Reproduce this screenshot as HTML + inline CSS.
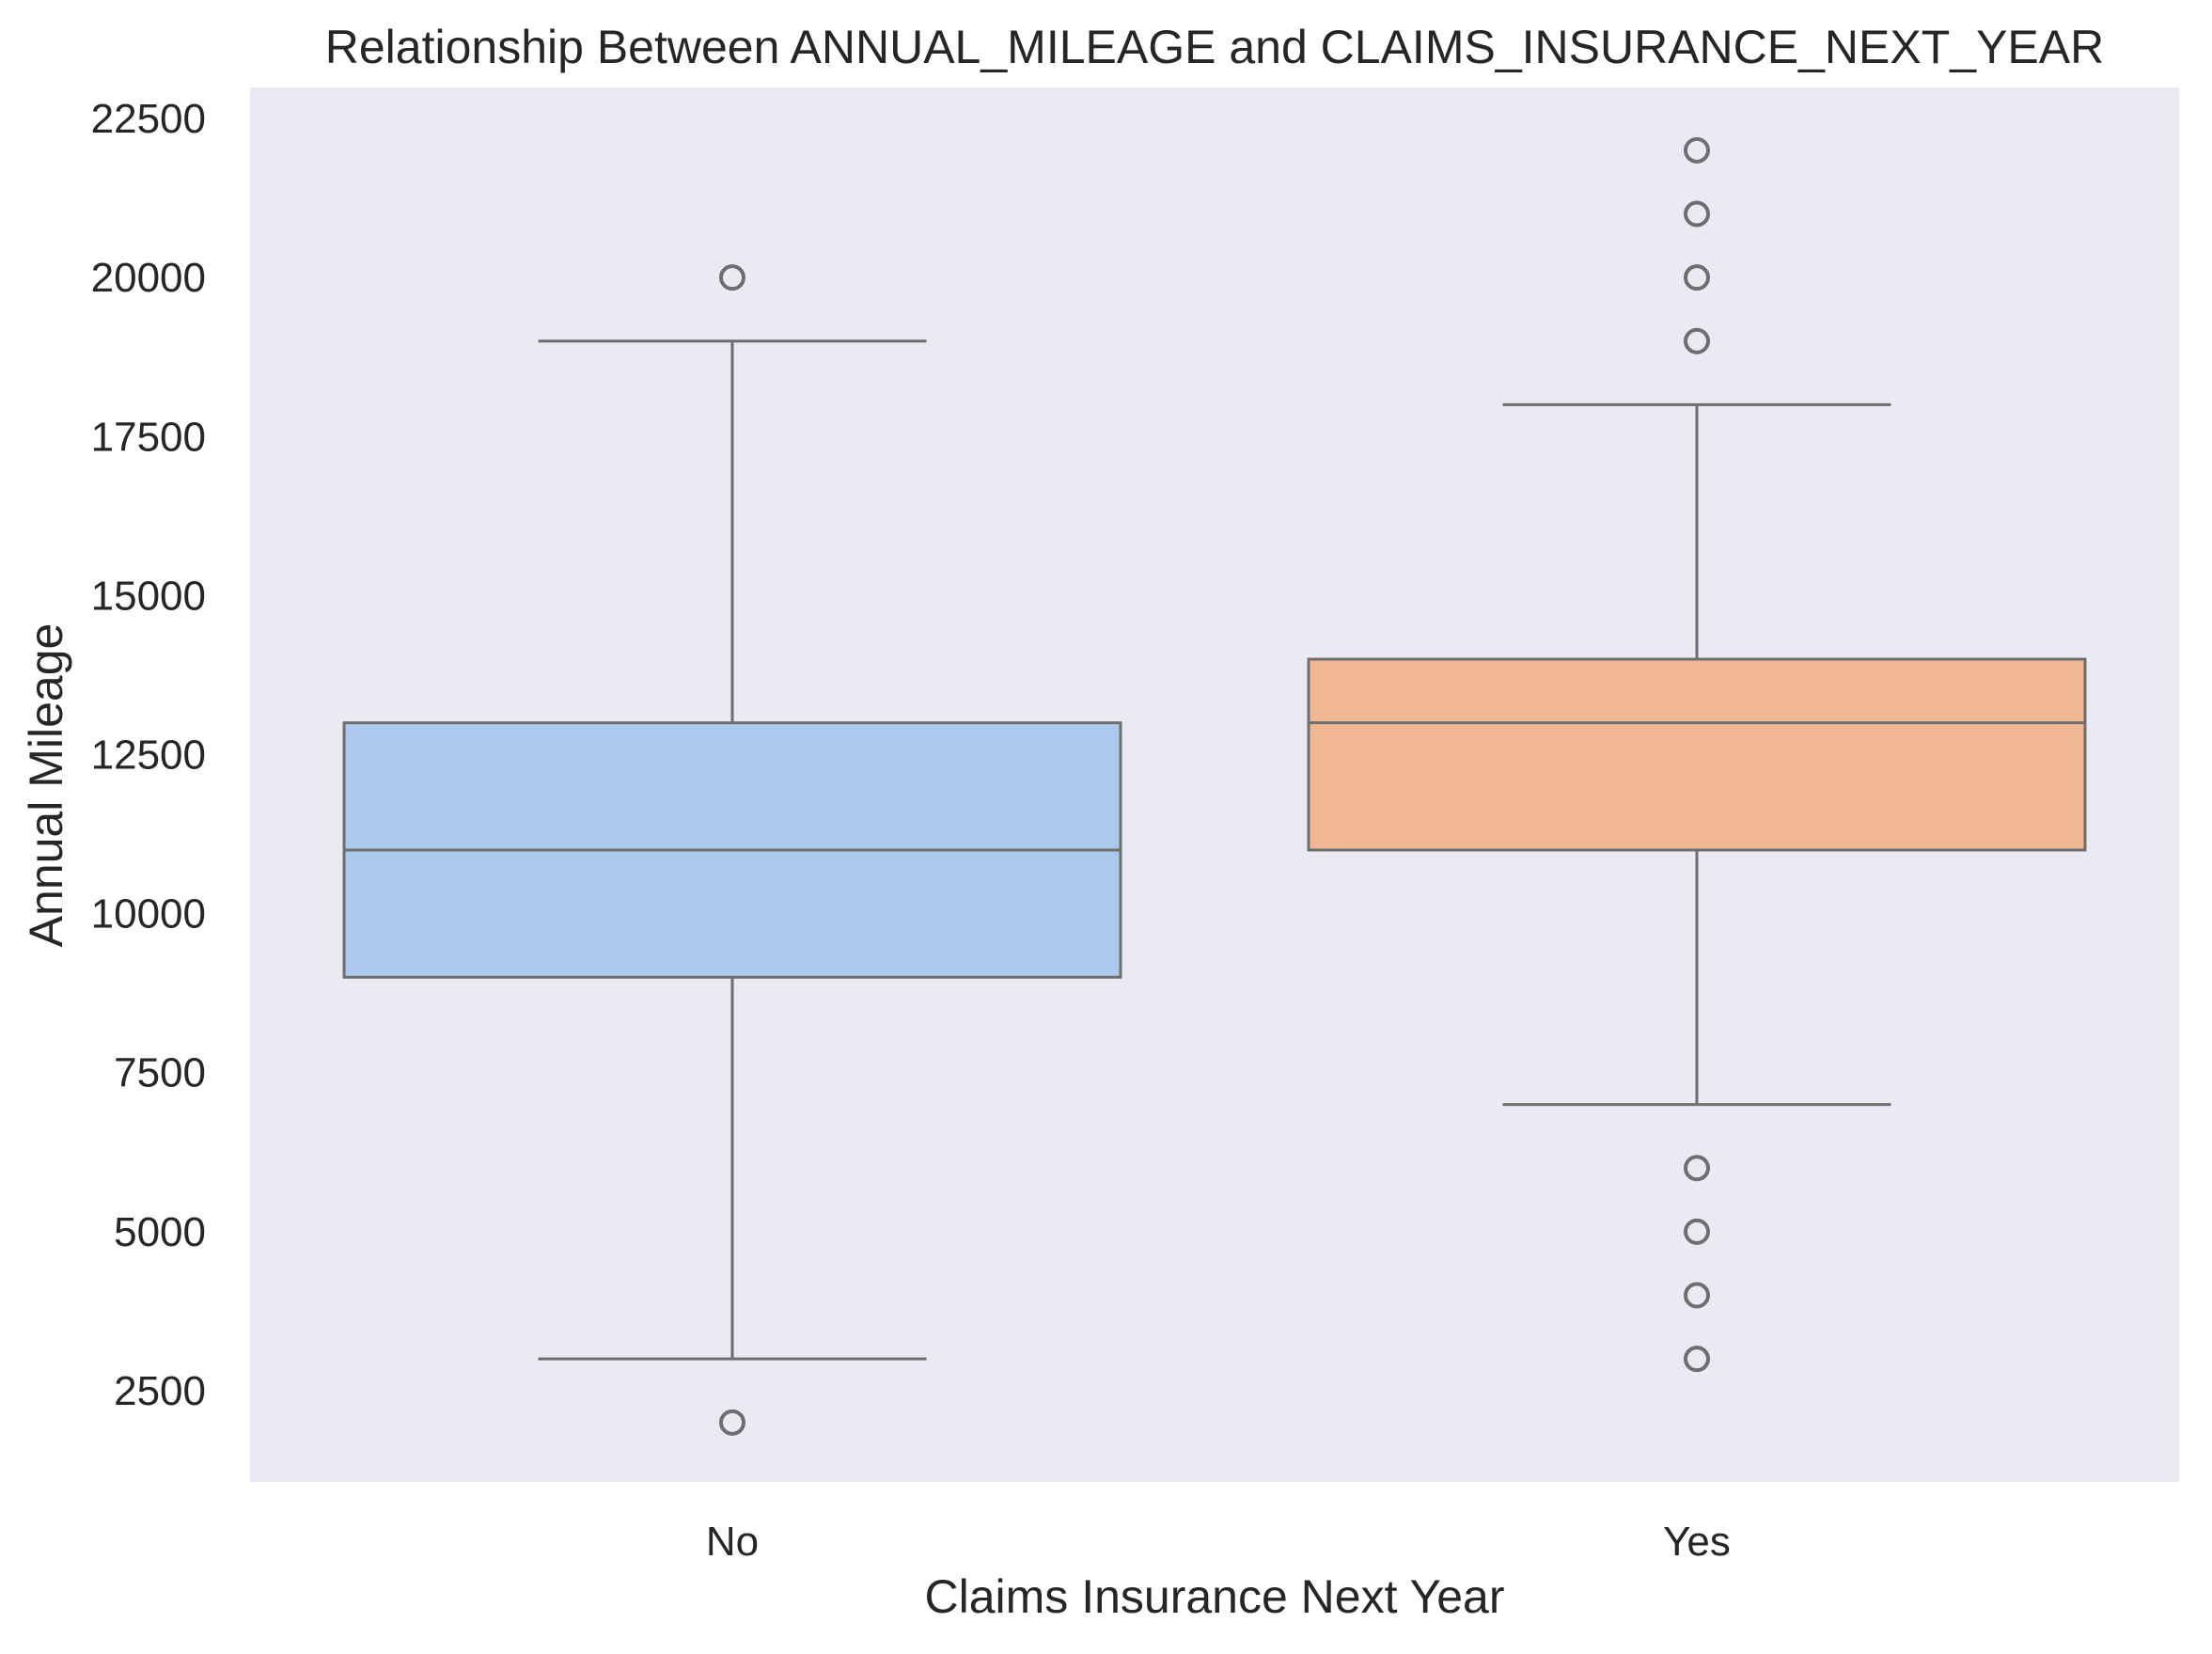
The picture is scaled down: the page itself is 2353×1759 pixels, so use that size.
<!DOCTYPE html>
<html><head><meta charset="utf-8"><style>
body{margin:0;background:#fff;}
svg text{font-family:"Liberation Sans",sans-serif;fill:#262626;}
</style></head><body>
<svg id="chart" width="2353" height="1754" xmlns="http://www.w3.org/2000/svg">
<rect x="0" y="0" width="2353" height="1754" fill="#fff"/>
<rect x="266" y="93" width="2052" height="1483" fill="#eaeaf2"/>
<text x="1292" y="67" text-anchor="middle" font-size="50">Relationship Between ANNUAL_MILEAGE and CLAIMS_INSURANCE_NEXT_YEAR</text>
<text x="1292" y="1715" text-anchor="middle" font-size="50">Claims Insurance Next Year</text>
<text transform="translate(66,835) rotate(-90)" text-anchor="middle" font-size="50">Annual Mileage</text>
<g id="yt"></g><g id="xt"></g><g id="marks"></g>
</svg>
<script>
const categories=["No","Yes"];
const q1=[9000,11000];
const median=[11000,13000];
const q3=[13000,14000];
const whiskerLow=[3000,7000];
const whiskerHigh=[19000,18000];
const outliers=[[2000,20000],[22000,21000,20000,19000,6000,5000,4000,3000]];
const yTicks=[2500,5000,7500,10000,12500,15000,17500,20000,22500];
const colors=["#abc9ec","#f0b792"];
const NS="http://www.w3.org/2000/svg";
const L=266,R=2318,T=93,B=1576,vMin=1066,vMax=22988;
function y(v){return B-(v-vMin)/(vMax-vMin)*(B-T);}
function x(i){return L+(i+0.5)*(R-L)/categories.length;}
function mk(p,tag,a){const e=document.createElementNS(NS,tag);for(const k in a)e.setAttribute(k,a[k]);p.appendChild(e);return e;}
const yt=document.getElementById('yt'),xt=document.getElementById('xt'),m=document.getElementById('marks');
yTicks.forEach(v=>{const t=mk(yt,'text',{x:219,y:y(v)+15,'text-anchor':'end','font-size':'44'});t.textContent=v;

});
const bw=(R-L)/categories.length*0.805, cw=bw/2;
const st={stroke:'#6e6e6e','stroke-width':3,fill:'none'};
categories.forEach((c,i)=>{
 const cx=x(i);
 const t=mk(xt,'text',{x:cx,y:1654,'text-anchor':'middle','font-size':'44'});t.textContent=c;
 
 
 const g=mk(m,'g',{});
 
 
 mk(g,'line',Object.assign({x1:cx,x2:cx,y1:y(q1[i]),y2:y(whiskerLow[i])},st));
 mk(g,'line',Object.assign({x1:cx,x2:cx,y1:y(q3[i]),y2:y(whiskerHigh[i])},st));
 mk(g,'line',Object.assign({x1:cx-cw/2,x2:cx+cw/2,y1:y(whiskerLow[i]),y2:y(whiskerLow[i])},st));
 mk(g,'line',Object.assign({x1:cx-cw/2,x2:cx+cw/2,y1:y(whiskerHigh[i]),y2:y(whiskerHigh[i])},st));
 mk(g,'rect',{x:cx-bw/2,y:y(q3[i]),width:bw,height:y(q1[i])-y(q3[i]),fill:colors[i],stroke:'#6e6e6e','stroke-width':3});
 mk(g,'line',Object.assign({x1:cx-bw/2,x2:cx+bw/2,y1:y(median[i]),y2:y(median[i])},st));
 outliers[i].forEach(v=>{const o=mk(g,'circle',{cx:cx,cy:y(v),r:12,fill:'none',stroke:'#6e6e6e','stroke-width':4});
  
  });
});
</script>
</body></html>
